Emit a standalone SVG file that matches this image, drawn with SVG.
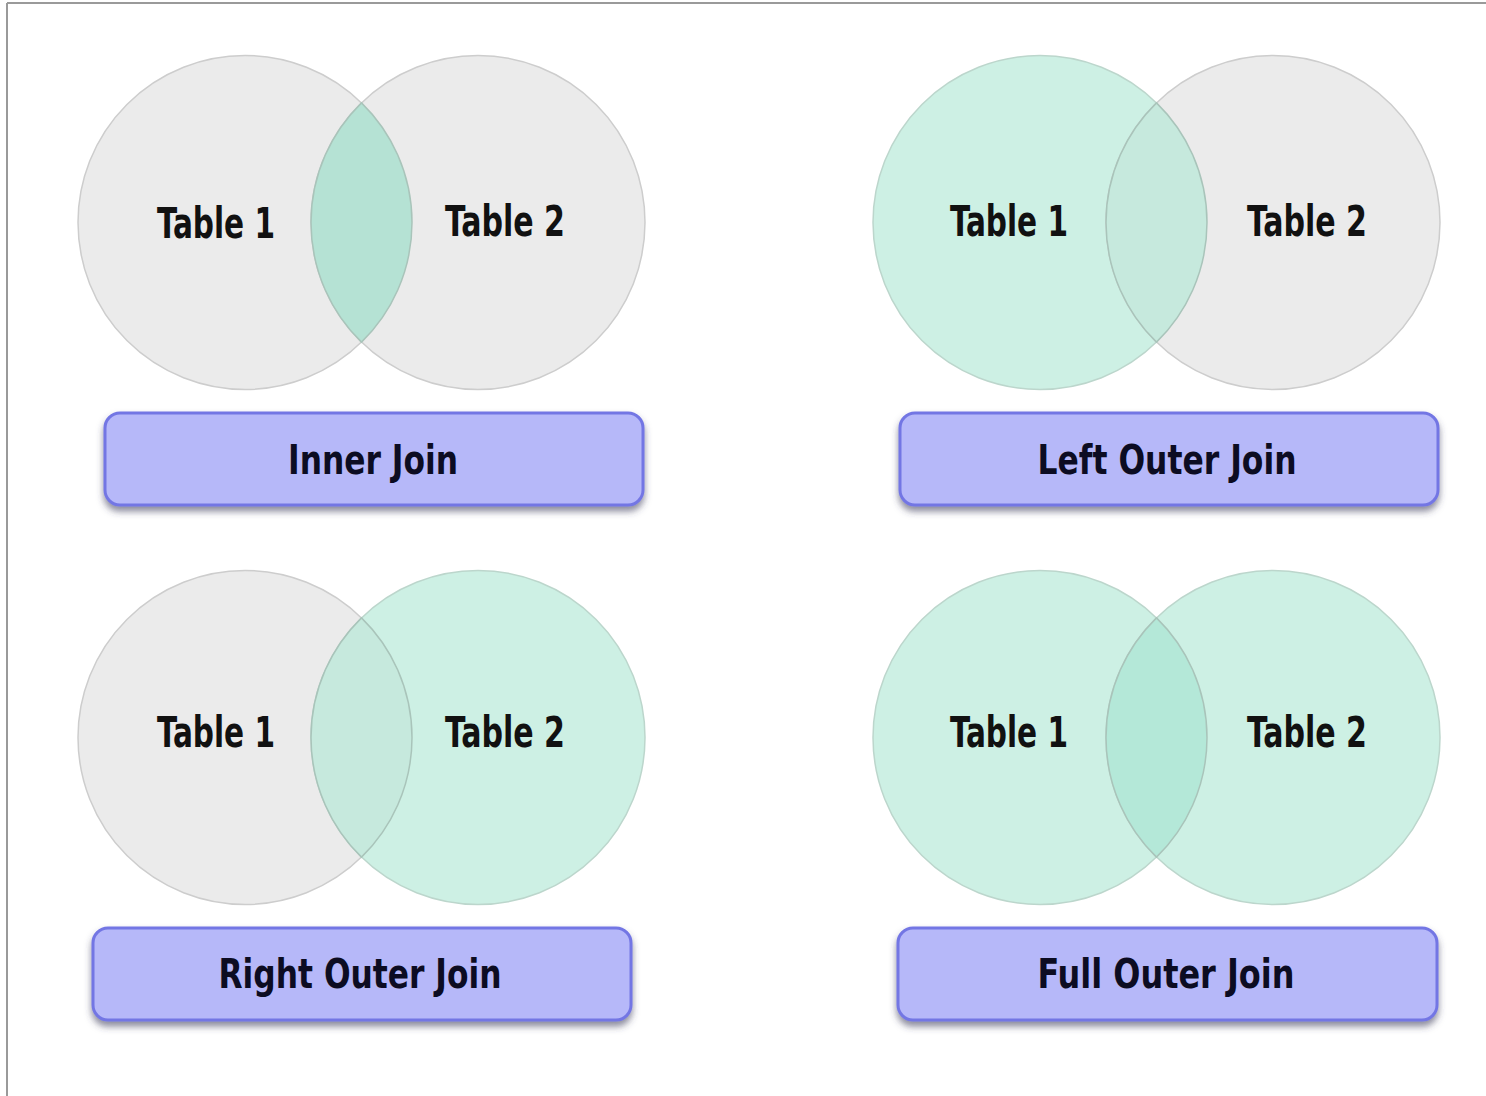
<svg xmlns="http://www.w3.org/2000/svg" width="1486" height="1096" viewBox="0 0 1486 1096">
  <defs>
    <filter id="shadow" x="-5%" y="-20%" width="110%" height="150%">
      <feDropShadow dx="0" dy="5" stdDeviation="3.5" flood-color="#3e3e5a" flood-opacity="0.6"/>
    </filter>
    <!-- lens shape shared by every pair of circles (centres 233 apart, r 167) -->
    <path id="lens" d="M0 -119.65 A167 167 0 0 1 0 119.65 A167 167 0 0 1 0 -119.65 Z"/>
  </defs>
  <style>
    .grey { fill: #ebebeb; stroke: #cdcdcd; stroke-width: 1.5; }
    .green { fill: #cdf0e4; stroke: #bcd6cc; stroke-width: 1.5; }
    .lens { stroke: #a9c4ba; stroke-width: 1.5; }
    .tbl { font-family: "Liberation Sans Narrow", "DejaVu Sans Condensed", "Liberation Sans", sans-serif; font-weight: bold; font-size: 42px; fill: #111; text-anchor: middle; }
    .btn rect { fill: #b6b8f9; stroke: #7376e4; stroke-width: 3; filter: url(#shadow); }
    .btn text { font-family: "Liberation Sans Narrow", "DejaVu Sans Condensed", "Liberation Sans", sans-serif; font-weight: bold; font-size: 40px; fill: #0c0c22; text-anchor: middle; }
  </style>

  <!-- page frame -->
  <rect x="0" y="0" width="1486" height="1096" fill="#ffffff"/>
  <line x1="7" y1="3" x2="1486" y2="3" stroke="#9a9a9a" stroke-width="2"/>
  <line x1="7" y1="3" x2="7" y2="1096" stroke="#9a9a9a" stroke-width="2"/>

  <!-- Inner join -->
  <g id="inner-join-venn">
    <circle class="grey" cx="245" cy="222.5" r="167"/>
    <circle class="grey" cx="478" cy="222.5" r="167"/>
    <use href="#lens" class="lens" x="361.5" y="222.5" fill="#b5e2d4"/>
    <text class="tbl" x="216" y="238" textLength="118" lengthAdjust="spacingAndGlyphs">Table 1</text>
    <text class="tbl" x="505" y="236" textLength="120" lengthAdjust="spacingAndGlyphs">Table 2</text>
  </g>
  <g id="inner-join" class="btn">
    <rect x="105" y="413" width="538" height="92" rx="15"/>
    <text x="373" y="474" textLength="170" lengthAdjust="spacingAndGlyphs">Inner Join</text>
  </g>

  <!-- Left outer join -->
  <g id="left-outer-join-venn">
    <circle class="green" cx="1040" cy="222.5" r="167"/>
    <circle class="grey" cx="1273" cy="222.5" r="167"/>
    <use href="#lens" class="lens" x="1156.5" y="222.5" fill="#c6e9dd"/>
    <text class="tbl" x="1009" y="236" textLength="118" lengthAdjust="spacingAndGlyphs">Table 1</text>
    <text class="tbl" x="1307" y="236" textLength="120" lengthAdjust="spacingAndGlyphs">Table 2</text>
  </g>
  <g id="left-outer-join" class="btn">
    <rect x="900" y="413" width="538" height="92" rx="15"/>
    <text x="1167" y="474" textLength="259" lengthAdjust="spacingAndGlyphs">Left Outer Join</text>
  </g>

  <!-- Right outer join -->
  <g id="right-outer-join-venn">
    <circle class="grey" cx="245" cy="737.5" r="167"/>
    <circle class="green" cx="478" cy="737.5" r="167"/>
    <use href="#lens" class="lens" x="361.5" y="737.5" fill="#c6e9dd"/>
    <text class="tbl" x="216" y="747" textLength="118" lengthAdjust="spacingAndGlyphs">Table 1</text>
    <text class="tbl" x="505" y="747" textLength="120" lengthAdjust="spacingAndGlyphs">Table 2</text>
  </g>
  <g id="right-outer-join" class="btn">
    <rect x="93" y="928" width="538" height="92" rx="15"/>
    <text x="360" y="988" textLength="283" lengthAdjust="spacingAndGlyphs">Right Outer Join</text>
  </g>

  <!-- Full outer join -->
  <g id="full-outer-join-venn">
    <circle class="green" cx="1040" cy="737.5" r="167"/>
    <circle class="green" cx="1273" cy="737.5" r="167"/>
    <use href="#lens" class="lens" x="1156.5" y="737.5" fill="#b4e8d8"/>
    <text class="tbl" x="1009" y="747" textLength="118" lengthAdjust="spacingAndGlyphs">Table 1</text>
    <text class="tbl" x="1307" y="747" textLength="120" lengthAdjust="spacingAndGlyphs">Table 2</text>
  </g>
  <g id="full-outer-join" class="btn">
    <rect x="898" y="928" width="539" height="92" rx="15"/>
    <text x="1166" y="988" textLength="257" lengthAdjust="spacingAndGlyphs">Full Outer Join</text>
  </g>

  <!-- no connectors in this diagram -->
  <g id="connectors"/>
</svg>
